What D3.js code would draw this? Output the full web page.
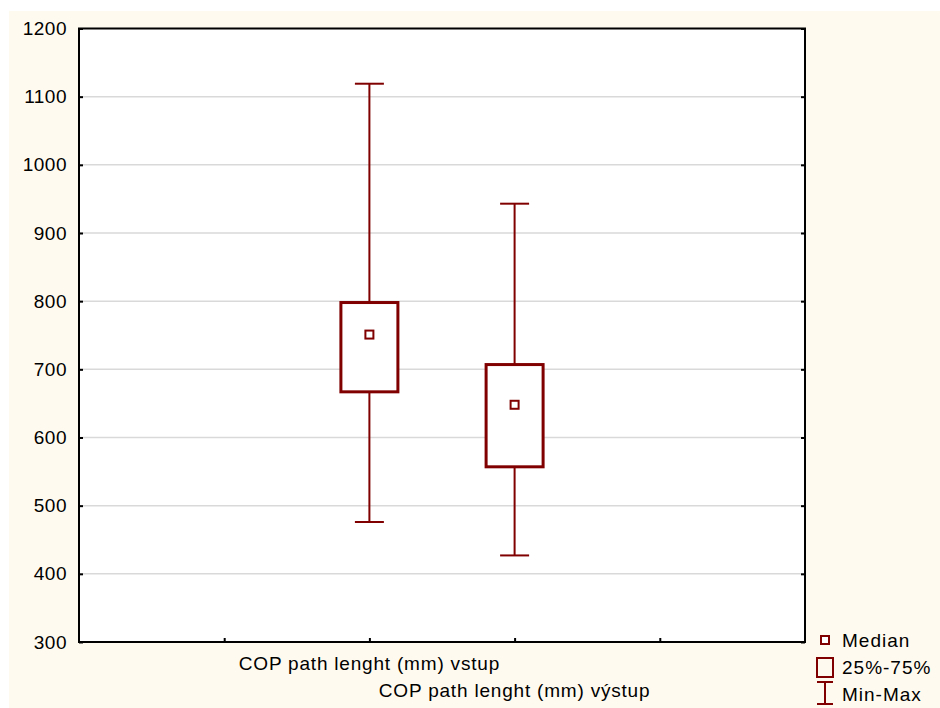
<!DOCTYPE html>
<html>
<head>
<meta charset="utf-8">
<script src="https://cdn.jsdelivr.net/npm/d3@7"></script>
<style>
  body { margin: 0; background: #ffffff; }
  text { font-family: "Liberation Sans", Arial, sans-serif; }
</style>
</head>
<body>
<script>
// data
var categories = ["COP path lenght (mm) vstup", "COP path lenght (mm) výstup"];
var catSlot = [2, 3];               // slot of each category on the 0..5 x axis
var minVals = [476, 427];
var q1Vals = [667, 557];
var medianVals = [751, 648];
var q3Vals = [798, 707];
var maxVals = [1119, 943];
var yTicks = [300, 400, 500, 600, 700, 800, 900, 1000, 1100, 1200];
var legendLabels = ["Median", "25%-75%", "Min-Max"];

var W = 940, H = 708;
var pLeft = 79, pRight = 805, pTop = 28.5, pBottom = 642;
var dark = "#800000";

var svg = d3.select("body").append("svg")
    .attr("width", W)
    .attr("height", H);

// cream background
svg.append("rect")
    .attr("x", 9).attr("y", 11)
    .attr("width", W - 9).attr("height", H - 11)
    .attr("fill", "#fffaef");

var x = d3.scaleLinear().domain([0, 5]).range([pLeft, pRight]);
var y = d3.scaleLinear().domain([300, 1200]).range([pBottom, pTop]);

// plot area
svg.append("rect")
    .attr("x", pLeft).attr("y", pTop)
    .attr("width", pRight - pLeft).attr("height", pBottom - pTop)
    .attr("fill", "#ffffff");

// gridlines
svg.selectAll(".grid")
    .data(yTicks.slice(1, -1))
    .enter().append("line")
      .attr("class", "grid")
      .attr("x1", pLeft).attr("x2", pRight)
      .attr("y1", function(d){ return y(d); })
      .attr("y2", function(d){ return y(d); })
      .attr("stroke", "#d9d9d9")
      .attr("stroke-width", 1.5);

// axes (ticks point inward)
var yAxisL = d3.axisRight(y).tickValues(yTicks).tickSize(4).tickFormat("");
svg.append("g").attr("transform", "translate(" + pLeft + ",0)").call(yAxisL);
var yAxisR = d3.axisLeft(y).tickValues(yTicks).tickSize(4).tickFormat("");
svg.append("g").attr("transform", "translate(" + pRight + ",0)").call(yAxisR);
var xAxis = d3.axisTop(x).tickValues([1, 2, 3, 4]).tickSize(4).tickFormat("");
svg.append("g").attr("transform", "translate(0," + pBottom + ")").call(xAxis);
svg.selectAll(".domain").remove();
svg.selectAll(".tick line").attr("stroke", "#000").attr("stroke-width", 2);

// frame
svg.append("rect")
    .attr("x", pLeft).attr("y", pTop)
    .attr("width", pRight - pLeft).attr("height", pBottom - pTop)
    .attr("fill", "none")
    .attr("stroke", "#000")
    .attr("stroke-width", 2);

// y tick labels
svg.selectAll(".ylab")
    .data(yTicks)
    .enter().append("text")
      .attr("class", "ylab")
      .attr("x", 67)
      .attr("y", function(d){ return y(d); })
      .attr("dy", "0.35em")
      .attr("text-anchor", "end")
      .attr("font-size", "19px")
      .attr("letter-spacing", "0.5px")
      .attr("fill", "#000")
      .text(function(d){ return d; });

// x labels (staggered)
svg.selectAll(".xlab")
    .data(categories)
    .enter().append("text")
      .attr("class", "xlab")
      .attr("x", function(d,i){ return x(catSlot[i]); })
      .attr("y", function(d,i){ return 670 + i * 27; })
      .attr("text-anchor", "middle")
      .attr("font-size", "19px")
      .attr("letter-spacing", "0.8px")
      .attr("fill", "#000")
      .text(function(d){ return d; });

// boxes
var boxW = 57, capW = 29, medS = 8;
var g = svg.selectAll(".box")
    .data(categories)
    .enter().append("g")
      .attr("class", "box");

// whisker
g.append("line")
    .attr("x1", function(d,i){ return x(catSlot[i]); })
    .attr("x2", function(d,i){ return x(catSlot[i]); })
    .attr("y1", function(d,i){ return y(maxVals[i]); })
    .attr("y2", function(d,i){ return y(minVals[i]); })
    .attr("stroke", dark).attr("stroke-width", 2);

g.append("line")
    .attr("x1", function(d,i){ return x(catSlot[i]) - capW/2; })
    .attr("x2", function(d,i){ return x(catSlot[i]) + capW/2; })
    .attr("y1", function(d,i){ return y(maxVals[i]); })
    .attr("y2", function(d,i){ return y(maxVals[i]); })
    .attr("stroke", dark).attr("stroke-width", 2);

g.append("line")
    .attr("x1", function(d,i){ return x(catSlot[i]) - capW/2; })
    .attr("x2", function(d,i){ return x(catSlot[i]) + capW/2; })
    .attr("y1", function(d,i){ return y(minVals[i]); })
    .attr("y2", function(d,i){ return y(minVals[i]); })
    .attr("stroke", dark).attr("stroke-width", 2);

// box 25-75
g.append("rect")
    .attr("x", function(d,i){ return x(catSlot[i]) - boxW/2; })
    .attr("y", function(d,i){ return y(q3Vals[i]); })
    .attr("width", boxW)
    .attr("height", function(d,i){ return y(q1Vals[i]) - y(q3Vals[i]); })
    .attr("fill", "#ffffff")
    .attr("stroke", dark).attr("stroke-width", 3);

// median
g.append("rect")
    .attr("x", function(d,i){ return x(catSlot[i]) - medS/2; })
    .attr("y", function(d,i){ return y(medianVals[i]) - medS/2; })
    .attr("width", medS).attr("height", medS)
    .attr("fill", "#ffffff")
    .attr("stroke", dark).attr("stroke-width", 2);

// legend
var lx = 825;
svg.append("rect")
    .attr("x", lx - 4).attr("y", 636)
    .attr("width", 8).attr("height", 8)
    .attr("fill", "#fff").attr("stroke", dark).attr("stroke-width", 2);
svg.append("rect")
    .attr("x", lx - 8).attr("y", 658)
    .attr("width", 16).attr("height", 19)
    .attr("fill", "none").attr("stroke", dark).attr("stroke-width", 2);
svg.append("line")
    .attr("x1", lx).attr("x2", lx).attr("y1", 682).attr("y2", 704)
    .attr("stroke", dark).attr("stroke-width", 2);
svg.append("line")
    .attr("x1", lx - 8).attr("x2", lx + 8).attr("y1", 682).attr("y2", 682)
    .attr("stroke", dark).attr("stroke-width", 2);
svg.append("line")
    .attr("x1", lx - 8).attr("x2", lx + 8).attr("y1", 704).attr("y2", 704)
    .attr("stroke", dark).attr("stroke-width", 2);

svg.selectAll(".leg")
    .data(legendLabels)
    .enter().append("text")
      .attr("class", "leg")
      .attr("x", 842)
      .attr("y", function(d,i){ return 640 + i * 27; })
      .attr("dy", "0.35em")
      .attr("font-size", "19px")
      .attr("letter-spacing", "1px")
      .attr("fill", "#000")
      .text(function(d){ return d; });
</script>
</body>
</html>
